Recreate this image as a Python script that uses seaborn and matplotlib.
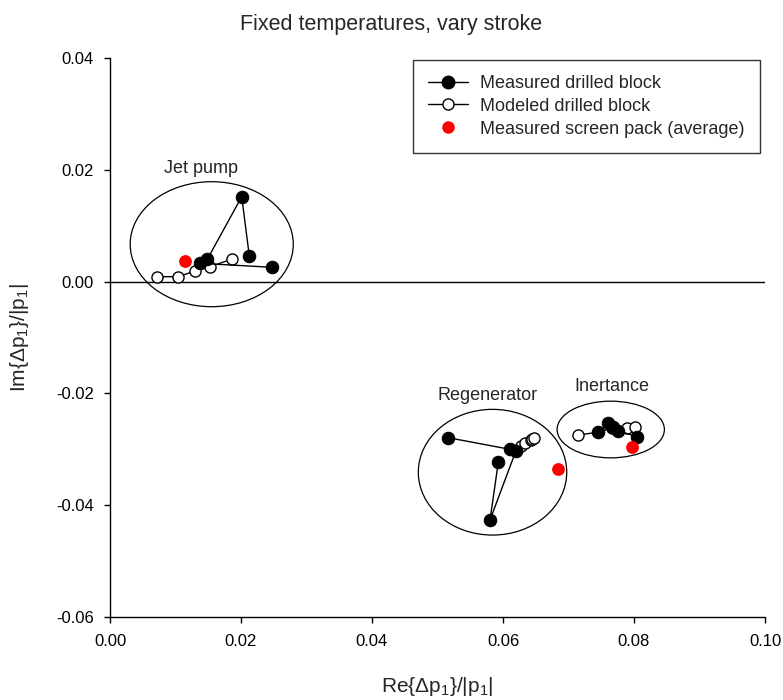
import matplotlib
matplotlib.use("Agg")
import matplotlib.pyplot as plt
from matplotlib.patches import Ellipse
from matplotlib.lines import Line2D
import seaborn as sns
import pandas as pd

# ---- data ----
meas_x = [0.02469, 0.01374, 0.01486, 0.02011, 0.02127]
meas_y = [0.00256, 0.00327, 0.00399, 0.01519, 0.00458]

regen_meas_x = [0.05165, 0.06107, 0.06198, 0.05802, 0.05928]
regen_meas_y = [-0.02793, -0.03000, -0.03025, -0.04265, -0.03233]

inert_meas_x = [0.07455, 0.07608, 0.07684, 0.07760, 0.08041]
inert_meas_y = [-0.02685, -0.02535, -0.02596, -0.02667, -0.02775]

jet_mod_x = [0.00713, 0.01043, 0.01298, 0.01527, 0.01867]
jet_mod_y = [0.00088, 0.00088, 0.00190, 0.00267, 0.00404]

regen_mod_x = [0.06275, 0.06336, 0.06427, 0.06450, 0.06466]
regen_mod_y = [-0.02941, -0.02887, -0.02825, -0.02807, -0.02798]

inert_mod_x = [0.07150, 0.07455, 0.07664, 0.07889, 0.08015]
inert_mod_y = [-0.02744, -0.02694, -0.02622, -0.02624, -0.02596]

screen_x = [0.01145, 0.06845, 0.07965]
screen_y = [0.00374, -0.03352, -0.02953]

group_names = ["Jet pump", "Regenerator", "Inertance"]
group_label_x = [0.01390, 0.05771, 0.07665]
group_label_y = [0.02020, -0.02030, -0.01884]
ell_cx = [0.01553, 0.05840, 0.07645]
ell_cy = [0.00669, -0.03410, -0.02646]
ell_w = [0.02490, 0.02266, 0.01638]
ell_h = [0.02236, 0.02249, 0.01014]

x_ticks = [0.00, 0.02, 0.04, 0.06, 0.08, 0.10]
y_ticks = [0.04, 0.02, 0.00, -0.02, -0.04, -0.06]

# ---- style ----
sns.set_style("ticks")
plt.rcParams["font.family"] = ["Liberation Sans", "DejaVu Sans"]
plt.rcParams["mathtext.default"] = "regular"

fig = plt.figure(figsize=(7.83, 7.0), dpi=100)
ax = fig.add_axes([110 / 783, 83 / 700, 655 / 783, 559 / 700])

ax.axhline(0, color="black", lw=1.0, zorder=1)

meas_sets = [(meas_x, meas_y), (regen_meas_x, regen_meas_y), (inert_meas_x, inert_meas_y)]
mod_sets = [(jet_mod_x, jet_mod_y), (regen_mod_x, regen_mod_y), (inert_mod_x, inert_mod_y)]

for mx, my in mod_sets:
    df = pd.DataFrame({"x": mx, "y": my})
    sns.lineplot(data=df, x="x", y="y", sort=False, estimator=None, ax=ax,
                 color="black", lw=1.0, marker="o", markersize=8,
                 markerfacecolor="white", markeredgecolor="black",
                 markeredgewidth=1.0, zorder=3)

for mx, my in meas_sets:
    df = pd.DataFrame({"x": mx, "y": my})
    sns.lineplot(data=df, x="x", y="y", sort=False, estimator=None, ax=ax,
                 color="black", lw=1.0, marker="o", markersize=9,
                 markerfacecolor="black", markeredgecolor="black", zorder=4)

sdf = pd.DataFrame({"x": screen_x, "y": screen_y})
sns.scatterplot(data=sdf, x="x", y="y", ax=ax, color="red", s=85,
                edgecolor="red", linewidth=0, zorder=5)

for cx, cy, w, h in zip(ell_cx, ell_cy, ell_w, ell_h):
    ax.add_patch(Ellipse((cx, cy), w, h, fill=False, edgecolor="black", lw=0.9, zorder=2))

for name, lx, ly in zip(group_names, group_label_x, group_label_y):
    ax.text(lx, ly, name, ha="center", va="center", fontsize=13)

ax.set_xlim(0, 0.10)
ax.set_ylim(-0.06, 0.04)
ax.set_xticks(x_ticks)
ax.set_yticks(y_ticks)
ax.set_xticklabels([f"{v:.2f}" for v in x_ticks])
ax.set_yticklabels([f"{v:.2f}" for v in y_ticks])
ax.tick_params(direction="out", length=4.5, width=1, labelsize=12, colors="black")
ax.tick_params(axis="x", pad=8)
ax.tick_params(axis="y", pad=7)
sns.despine(ax=ax)
for s in ["left", "bottom"]:
    ax.spines[s].set_color("black")
    ax.spines[s].set_linewidth(1.0)

ax.set_xlabel(r"Re{$\Delta$p$_1$}/|p$_1$|", fontsize=15)
ax.set_ylabel(r"Im{$\Delta$p$_1$}/|p$_1$|", fontsize=15)
ax.xaxis.set_label_coords(0.5, -0.103)
ax.yaxis.set_label_coords(-0.120, 0.5)
fig.suptitle("Fixed temperatures, vary stroke", fontsize=15.5, x=0.5, y=0.98)

handles = [
    Line2D([], [], color="black", lw=1.0, marker="o", markersize=9,
           markerfacecolor="black"),
    Line2D([], [], color="black", lw=1.0, marker="o", markersize=8,
           markerfacecolor="white"),
    Line2D([], [], color="red", lw=0, marker="o", markersize=9,
           markeredgewidth=0),
]
labels = ["Measured drilled block", "Modeled drilled block", "Measured screen pack (average)"]
leg = ax.legend(handles, labels, loc="upper right", bbox_to_anchor=(0.992, 0.997),
                borderaxespad=0, fontsize=13, frameon=True, fancybox=False,
                edgecolor="black", handlelength=2.2, borderpad=0.85,
                labelspacing=0.32, handletextpad=0.65)
leg.get_frame().set_linewidth(1.0)

fig.savefig("out.png", dpi=100)
